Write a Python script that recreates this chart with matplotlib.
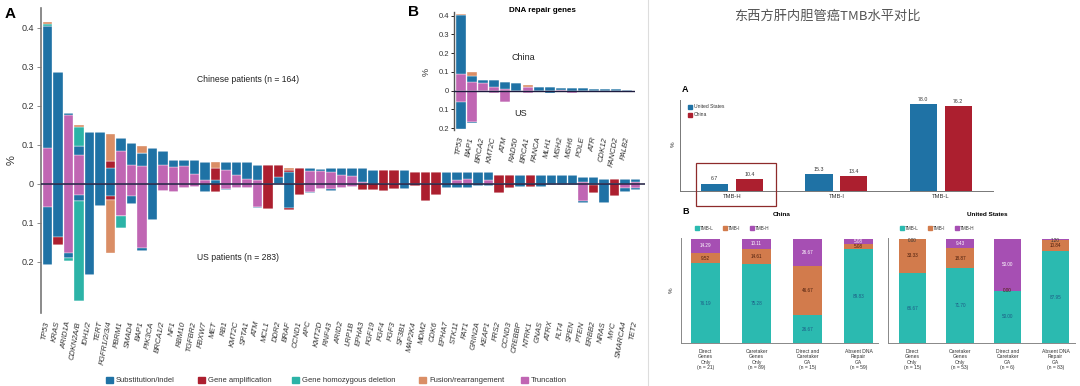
import numpy as np
import matplotlib.pyplot as plt
from matplotlib.patches import Rectangle

plt.rcParams['font.family'] = ['Liberation Sans', 'Noto Sans CJK SC']

W, H = 1080, 386

# ---- panel A (gene alterations, China up / US down) ----
genes = ["TP53", "KRAS", "ARID1A", "CDKN2A/B", "IDH1/2", "TERT", "FGFR1/2/3/4", "PBRM1",
         "SMAD4", "BAP1", "PIK3CA", "BRCA1/2", "NF1", "RBM10", "TGFBR2", "FBXW7", "MET",
         "RB1", "KMT2C", "SPTA1", "ATM", "MCL1", "DDR2", "BRAF", "CCND1", "APC", "KMT2D",
         "RNF43", "ARID2", "LRP1B", "EPHA3", "FGF19", "FGF4", "FGF3", "SF3B1", "MAP2K4",
         "MDM2", "CDK6", "EPHA7", "STK11", "FAT1", "GRIN2A", "KEAP1", "FRS2", "CCND3",
         "CREBBP", "NTRK1", "GNAS", "ATRX", "FLT4", "SPEN", "PTEN", "ERBB2", "NRAS", "MYC",
         "SMARCA4", "TET2"]

cn_trunc = [.092, 0, .177, .074, 0, 0, 0, .085, .049, .047, 0, .049, .044, .047, .026, .010,
            0, .036, .023, .012, .010, 0, 0, 0, 0, .032, .032, .030, .023, .019, .004, 0, 0,
            0, 0, 0, 0, 0, 0, .010, .012, 0, .010, 0, 0, 0, 0, 0, 0, 0, 0, .005, 0, 0, 0, 0, .006]
cn_sub = [.313, .288, .006, .022, .134, .134, .040, .032, .055, .032, .091, .036, .017, .014,
          .035, .045, .010, .019, .032, .043, .038, 0, .017, .030, 0, .009, .006, .011, .018,
          .022, .037, .036, 0, 0, .036, 0, 0, 0, .030, .020, .018, .030, .020, 0, 0, .023, 0,
          .023, .023, .023, .023, .012, .017, .012, 0, .012, .006]
cn_amp = [0, 0, 0, 0, 0, 0, .020, 0, 0, 0, 0, 0, 0, 0, 0, 0, .030, 0, 0, 0, 0, .049, .032,
          .005, .042, 0, 0, 0, 0, 0, 0, 0, .036, .036, 0, .031, .030, .030, 0, 0, 0, 0, 0,
          .023, .023, 0, .023, 0, 0, 0, 0, 0, 0, 0, .012, 0, 0]
cn_del = [.005, 0, 0, .049] + [0] * 53
cn_fus = [.004, 0, 0, .006, 0, 0, .068, 0, 0, .019, 0, 0, 0, 0, 0, 0, .015, 0, 0, 0, 0, 0, 0,
          .005] + [0] * 33

us_trunc = [.058, 0, .178, .028, 0, 0, 0, .082, .031, .165, 0, .017, .021, .011, .008, 0, 0,
            .012, .011, .010, .058, 0, 0, 0, 0, .020, .014, .014, .011, .008, 0, 0, 0, 0, 0,
            0, 0, 0, 0, 0, 0, 0, 0, 0, 0, 0, 0, 0, 0, 0, 0, .045, 0, 0, 0, .010, .010]
us_sub = [.150, .137, .012, .017, .233, .056, .030, 0, .020, .008, .092, 0, 0, 0, 0, .020, 0,
          .003, 0, 0, .005, 0, 0, .062, 0, .003, 0, .003, 0, 0, 0, 0, 0, 0, .014, 0, 0, 0,
          .010, .010, .010, .005, .005, 0, 0, .008, 0, .007, .004, .004, .003, .005, .004,
          .050, 0, .010, .005]
us_amp = [0, .019, 0, 0, 0, 0, .011, 0, 0, 0, 0, 0, 0, 0, 0, 0, .020, 0, 0, 0, 0, .065, 0,
          .006, .028, 0, 0, 0, 0, 0, .015, .015, .017, .014, 0, .005, .045, .028, 0, 0, 0,
          0, 0, .024, .011, 0, .007, 0, 0, 0, 0, 0, .020, 0, .031, 0, 0]
us_del = [0, 0, .007, .255, 0, 0, 0, .031] + [0] * 49
us_fus = [0, 0, 0, 0, 0, 0, .137] + [0] * 50

# ---- panel B (DNA repair genes) ----
b_genes = ["TP53", "BAP1", "BRCA2", "KMT2C", "ATM", "RAD50", "BRCA1", "FANCA", "MLH1",
           "MSH2", "MSH6", "POLE", "ATR", "CDK12", "FANCD2", "PALB2"]
b_cn_trunc = [.090, .048, .040, .018, .008, 0, .020, 0, 0, .006, 0, 0, 0, 0, 0, 0]
b_cn_sub = [.312, .030, .015, .037, .040, .040, 0, .018, .018, .009, .015, .015, .010, .010,
            .010, .004]
b_cn_fus = [.008, .022, 0, 0, 0, 0, .010, 0, 0, 0, 0, 0, 0, 0, 0, 0]
b_us_trunc = [.060, .166, .003, .011, .058, 0, .010, 0, 0, 0, .010, 0, 0, 0, 0, 0]
b_us_sub = [.145, .005, 0, 0, .004, 0, 0, 0, .010, 0, 0, 0, 0, 0, 0, 0]

# ---- right side: TMB ----
tmb_groups = ["TMB-H", "TMB-I", "TMB-L"]
tmb_us = [6.7, 15.3, 78.0]
tmb_cn = [10.4, 13.4, 76.2]

cn_cats = ["Direct\nGenes\nOnly\n(n = 21)", "Caretaker\nGenes\nOnly\n(n = 89)",
           "Direct and\nCaretaker\nGA\n(n = 15)", "Absent DNA\nRepair\nGA\n(n = 59)"]
us_cats = ["Direct\nGenes\nOnly\n(n = 15)", "Caretaker\nGenes\nOnly\n(n = 53)",
           "Direct and\nCaretaker\nGA\n(n = 6)", "Absent DNA\nRepair\nGA\n(n = 83)"]
cn_l = [76.19, 75.28, 26.67, 89.83]
cn_i = [9.52, 14.61, 46.67, 5.08]
cn_h = [14.29, 10.11, 26.67, 5.08]
us_l = [66.67, 71.70, 50.00, 87.95]
us_i = [33.33, 18.87, 0.0, 10.84]
us_h = [0.00, 9.43, 50.00, 1.20]

C_SUB, C_AMP, C_DEL, C_FUS, C_TRU = "#1f72a5", "#ac1f2f", "#2cb3a7", "#da8e66", "#c066b3"
C_L, C_I, C_H = "#2bbab0", "#d27b4c", "#a64fb3"
ZERO = "#1d1b3f"

fig = plt.figure(figsize=(W / 100, H / 100), dpi=100)


def axes_px(l, t, r, b):
    return fig.add_axes([l / W, 1 - b / H, (r - l) / W, (b - t) / H])


def txt(x, y, s, **kw):
    return fig.text(x / W, 1 - y / H, s, **kw)


def square(x, y, s, color):
    fig.add_artist(Rectangle((x / W, 1 - (y + s / 2) / H), s / W, s / H,
                             transform=fig.transFigure, color=color))


def stacked(ax, x, layers, sign, width):
    bottom = np.zeros(len(x))
    for vals, col in layers:
        v = np.array(vals, dtype=float) * sign
        ax.bar(x, v, width, bottom=bottom, color=col, edgecolor="white", linewidth=0.25)
        bottom += v


# panel A
axA = axes_px(41, 8, 645, 313)
xa = np.arange(len(genes))
stacked(axA, xa, [(cn_trunc, C_TRU), (cn_sub, C_SUB), (cn_amp, C_AMP), (cn_del, C_DEL),
                  (cn_fus, C_FUS)], 1, 0.88)
stacked(axA, xa, [(us_trunc, C_TRU), (us_sub, C_SUB), (us_amp, C_AMP), (us_del, C_DEL),
                  (us_fus, C_FUS)], -1, 0.88)
axA.axhline(0, color=ZERO, lw=1.1, zorder=5)
axA.set_xlim(-0.62, 56.9)
axA.set_ylim(-0.331, 0.451)
for s in ["top", "right", "bottom"]:
    axA.spines[s].set_visible(False)
axA.spines["left"].set_color("#777777")
axA.spines["left"].set_linewidth(1.2)
yt = [-0.2, -0.1, 0, 0.1, 0.2, 0.3, 0.4]
axA.set_yticks(yt)
axA.set_yticklabels(["0.2", "0.1", "0", "0.1", "0.2", "0.3", "0.4"], fontsize=6.5, color="#333")
axA.tick_params(axis="y", length=3, width=0.6, color="#777", pad=2)
axA.set_xticks(xa)
axA.set_xticklabels(genes, rotation=80, fontsize=5.6, style="italic", color="#333",
                    ha="right", va="center", rotation_mode="anchor")
axA.tick_params(axis="x", length=0, pad=6)

txt(5, 14, "A", fontsize=11, fontweight="bold", va="center")
txt(12, 160, "%", fontsize=8, rotation=90, va="center", ha="center", color="#333")
txt(197, 79, "Chinese patients (n = 164)", fontsize=6.2, va="center", color="#222")
txt(197, 258, "US patients (n = 283)", fontsize=6.2, va="center", color="#222")

leg_items = [("Substitution/indel", C_SUB, 106), ("Gene amplification", C_AMP, 198),
             ("Gene homozygous deletion", C_DEL, 292), ("Fusion/rearrangement", C_FUS, 419),
             ("Truncation", C_TRU, 521)]
for lab, col, x0 in leg_items:
    square(x0, 380, 6.5, col)
    txt(x0 + 10, 380, lab, fontsize=5.5, va="center", color="#333")

# panel B inset
axB = axes_px(454, 12, 635, 130)
xb = np.arange(len(b_genes))
stacked(axB, xb, [(b_cn_trunc, C_TRU), (b_cn_sub, C_SUB), (b_cn_fus, C_FUS)], 1, 0.9)
stacked(axB, xb, [(b_us_trunc, C_TRU), (b_us_sub, C_SUB)], -1, 0.9)
axB.axhline(0, color=ZERO, lw=1.0, zorder=5)
axB.set_xlim(-0.63, 15.68)
axB.set_ylim(-0.21, 0.42)
for s in ["top", "right", "bottom"]:
    axB.spines[s].set_visible(False)
axB.spines["left"].set_color("#555")
axB.spines["left"].set_linewidth(1.0)
axB.set_yticks(yt)
axB.set_yticklabels(["0.2", "0.1", "0", "0.1", "0.2", "0.3", "0.4"], fontsize=5.5, color="#333")
axB.tick_params(axis="y", length=2, width=0.6, pad=1.5)
axB.set_xticks(xb)
axB.set_xticklabels(b_genes, rotation=80, fontsize=5.6, style="italic", color="#333",
                    ha="right", va="center", rotation_mode="anchor")
axB.tick_params(axis="x", length=0, pad=5)
txt(408, 12, "B", fontsize=11, fontweight="bold", va="center")
txt(542, 11, "DNA repair genes", fontsize=5.8, fontweight="bold", ha="center", va="center")
txt(523, 57, "China", fontsize=6.5, ha="center", va="center", color="#222")
txt(521, 114, "US", fontsize=6.5, ha="center", va="center", color="#222")
txt(426, 72, "%", fontsize=6.5, rotation=90, ha="center", va="center", color="#333")

fig.add_artist(plt.Line2D([648 / W, 648 / W], [0, 1], transform=fig.transFigure,
                          color="#dddddd", lw=0.8))

# right: title
txt(827, 16, "东西方肝内胆管癌TMB水平对比", fontsize=9.5, ha="center", va="center",
    color="#555555", family=["Noto Sans CJK SC", "DejaVu Sans"])

# right A: grouped bars
axR = axes_px(680, 100, 993, 191)
xg = np.arange(len(tmb_groups))
b1 = axR.bar(xg - 0.166, tmb_us, 0.26, color=C_SUB)
b2 = axR.bar(xg + 0.166, tmb_cn, 0.26, color=C_AMP)
for bars, vals in ((b1, tmb_us), (b2, tmb_cn)):
    for r, v in zip(bars, vals):
        axR.text(r.get_x() + r.get_width() / 2, v + 2, f"{v:.1f}", fontsize=3.8,
                 ha="center", va="bottom", color="#333")
axR.set_xlim(-0.498, 2.5)
axR.set_ylim(0, 82)
axR.set_yticks([])
axR.set_xticks(xg)
axR.set_xticklabels(tmb_groups, fontsize=4.2, color="#333")
axR.tick_params(axis="x", length=0, pad=2)
for s in ["top", "right"]:
    axR.spines[s].set_visible(False)
for s in ["left", "bottom"]:
    axR.spines[s].set_color("#777")
    axR.spines[s].set_linewidth(0.7)
txt(682, 90, "A", fontsize=6.5, fontweight="bold", va="center")
txt(673, 144, "%", fontsize=4.5, rotation=90, ha="center", va="center", color="#333")
square(688, 107, 3.5, C_SUB)
txt(694, 107, "United States", fontsize=3.6, va="center", color="#333")
square(688, 115, 3.5, C_AMP)
txt(694, 115, "China", fontsize=3.6, va="center", color="#333")
fig.add_artist(Rectangle((696 / W, 1 - 206 / H), 80 / W, 43 / H, transform=fig.transFigure,
                         fill=False, edgecolor="#8e2b2b", lw=0.9))


# right B: stacked 100% bars
def tmb_panel(box, cats, l, i, h, title, tx, leg_x, unit_left, unit_right):
    ax = axes_px(*box)
    x = np.arange(len(cats))
    ax.bar(x, l, 0.57, color=C_L)
    ax.bar(x, i, 0.57, bottom=l, color=C_I)
    ax.bar(x, h, 0.57, bottom=np.array(l) + np.array(i), color=C_H)
    for k in range(len(cats)):
        ax.text(x[k], l[k] / 2, f"{l[k]:.2f}", fontsize=3.3, ha="center", va="center",
                color="#1d5b86")
        ax.text(x[k], l[k] + i[k] / 2, f"{i[k]:.2f}", fontsize=3.3, ha="center",
                va="center", color="#4a1d0c")
        ax.text(x[k], min(l[k] + i[k] + h[k] / 2, 98.5), f"{h[k]:.2f}", fontsize=3.3,
                ha="center", va="center", color="white" if h[k] > 3 else "#333")
    ax.set_xlim(unit_left, unit_right)
    ax.set_ylim(0, 100.5)
    ax.set_yticks([])
    ax.set_xticks(x)
    ax.set_xticklabels(cats, fontsize=3.6, color="#333", linespacing=1.15)
    ax.tick_params(axis="x", length=0, pad=4)
    for s in ["top", "right"]:
        ax.spines[s].set_visible(False)
    for s in ["left", "bottom"]:
        ax.spines[s].set_color("#888")
        ax.spines[s].set_linewidth(0.7)
    txt(tx, 214, title, fontsize=4.6, fontweight="bold", ha="center", va="center")
    for lab, col, dx in (("TMB-L", C_L, 0), ("TMB-I", C_I, 28), ("TMB-H", C_H, 55)):
        square(leg_x + dx, 228, 3.5, col)
        txt(leg_x + dx + 5, 228, lab, fontsize=3.3, va="center", color="#333")
    return ax


tmb_panel((681, 238, 878, 343), cn_cats, cn_l, cn_i, cn_h, "China", 782, 695, -0.48, 3.38)
tmb_panel((888, 238, 1075, 343), us_cats, us_l, us_i, us_h, "United States", 987, 900,
          -0.51, 3.41)
txt(682, 212, "B", fontsize=6.5, fontweight="bold", va="center")
txt(671, 290, "%", fontsize=4.5, rotation=90, ha="center", va="center", color="#333")

fig.savefig("out.png", dpi=100)
